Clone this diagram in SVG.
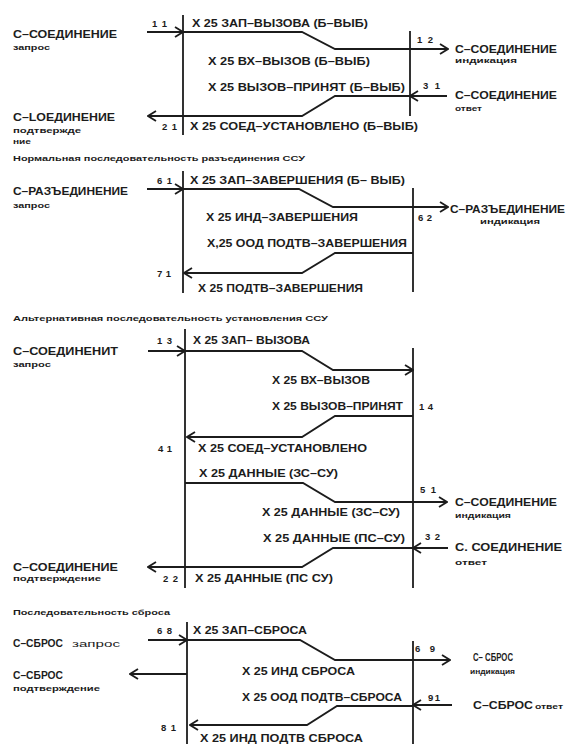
<svg xmlns="http://www.w3.org/2000/svg" width="570" height="744" viewBox="0 0 570 744">
<style>
text{font-family:"Liberation Sans",Arial,sans-serif;font-weight:bold;fill:#1c1c1c;font-size:10.5px}
.s{font-size:7px}
.n{font-size:9.5px}
.h{font-size:7.5px}
.m{font-size:9px;font-weight:normal}
.ln{stroke:#1c1c1c;stroke-width:1.8;fill:none}
.ar{stroke:#1c1c1c;stroke-width:1.8;fill:none;marker-end:url(#a)}
</style>
<defs>
<marker id="a" viewBox="0 0 10 12" refX="9" refY="6" markerWidth="10" markerHeight="12" markerUnits="userSpaceOnUse" orient="auto">
<path d="M1,1 L9,6 L1,11" fill="none" stroke="#1c1c1c" stroke-width="1.8"/>
</marker>
</defs>
<rect width="570" height="744" fill="#fff"/>

<g id="lifelines">
<path class="ln" d="M183,15 V135"/>
<path class="ln" d="M410,31 V116"/>
<path class="ln" d="M183,171 V293"/>
<path class="ln" d="M413,188 V292"/>
<path class="ln" d="M185,329 V588"/>
<path class="ln" d="M413,348 V588"/>
<path class="ln" d="M187,622 V744"/>
<path class="ln" d="M413,641 V744"/>
</g>

<g id="connectors">
<path class="ar" d="M147,32 H183"/>
<path class="ar" d="M183,32 H302 L335,49 H448"/>
<path class="ar" d="M447,96 H410"/>
<path class="ar" d="M410,96 H335 L302,116 H148"/>

<path class="ar" d="M147,189 H183"/>
<path class="ar" d="M183,189 H299 L333,207 H448"/>
<path class="ar" d="M413,253 H335 L302,273 H184"/>

<path class="ar" d="M148,351 H185"/>
<path class="ar" d="M185,351 H302 L333,370 H413"/>
<path class="ar" d="M413,416 H335 L302,437 H187"/>
<path class="ar" d="M185,483 H303 L335,502 H447"/>
<path class="ar" d="M448,548 H413"/>
<path class="ar" d="M413,548 H333 L302,567 H148"/>

<path class="ar" d="M148,640 H187"/>
<path class="ar" d="M187,640 H300 L335,660 H450"/>
<path class="ar" d="M187,674 H130"/>
<path class="ar" d="M452,705 H413"/>
<path class="ar" d="M413,706 H337 L307,725 H190"/>
</g>

<g id="sec1">
<text x="13" y="38" textLength="104" lengthAdjust="spacingAndGlyphs">С–СОЕДИНЕНИЕ</text>
<text class="s" x="13" y="50" textLength="37" lengthAdjust="spacingAndGlyphs">запрос</text>
<text class="n" x="152" y="27" textLength="15">1 1</text>
<text x="192" y="27" textLength="176" lengthAdjust="spacingAndGlyphs">X 25 ЗАП–ВЫЗОВА (Б–ВЫБ)</text>
<text x="208" y="65" textLength="162" lengthAdjust="spacingAndGlyphs">X 25 ВХ–ВЫЗОВ (Б–ВЫБ)</text>
<text x="208" y="91" textLength="197" lengthAdjust="spacingAndGlyphs">X 25 ВЫЗОВ–ПРИНЯТ (Б–ВЫБ)</text>
<text class="n" x="417" y="43" textLength="16">1 2</text>
<text x="455" y="53" textLength="102" lengthAdjust="spacingAndGlyphs">С–СОЕДИНЕНИЕ</text>
<text class="s" x="455" y="63" textLength="62" lengthAdjust="spacingAndGlyphs">индикация</text>
<text class="n" x="423" y="89" textLength="17">3 1</text>
<text x="455" y="99" textLength="102" lengthAdjust="spacingAndGlyphs">С–СОЕДИНЕНИЕ</text>
<text class="s" x="455" y="111" textLength="27" lengthAdjust="spacingAndGlyphs">ответ</text>
<text class="n" x="162" y="130" textLength="15">2 1</text>
<text x="190" y="130" textLength="228" lengthAdjust="spacingAndGlyphs">X 25 СОЕД–УСТАНОВЛЕНО (Б–ВЫБ)</text>
<text x="13" y="121" textLength="102" lengthAdjust="spacingAndGlyphs">С–LОЕДИНЕНИЕ</text>
<text class="s" x="13" y="133" textLength="68" lengthAdjust="spacingAndGlyphs">подтвержде</text>
<text class="s" x="13" y="144" textLength="18" lengthAdjust="spacingAndGlyphs">ние</text>
<text class="h" x="13" y="161" textLength="292" lengthAdjust="spacingAndGlyphs">Нормальная последовательность разъединения ССУ</text>
</g>

<g id="sec2">
<text class="n" x="157" y="184" textLength="15">6 1</text>
<text x="190" y="184" textLength="215" lengthAdjust="spacingAndGlyphs">X 25  ЗАП–ЗАВЕРШЕНИЯ (Б– ВЫБ)</text>
<text x="13" y="195" textLength="115" lengthAdjust="spacingAndGlyphs">С–РАЗЪЕДИНЕНИЕ</text>
<text class="s" x="13" y="208" textLength="37" lengthAdjust="spacingAndGlyphs">запрос</text>
<text x="206" y="221" textLength="152" lengthAdjust="spacingAndGlyphs">X 25 ИНД–ЗАВЕРШЕНИЯ</text>
<text class="n" x="418" y="221" textLength="14">6 2</text>
<text x="450" y="213" textLength="115" lengthAdjust="spacingAndGlyphs">С–РАЗЪЕДИНЕНИЕ</text>
<text class="s" x="480" y="224" textLength="60" lengthAdjust="spacingAndGlyphs">индикация</text>
<text x="207" y="247" textLength="200" lengthAdjust="spacingAndGlyphs">X,25 ООД ПОДТВ–ЗАВЕРШЕНИЯ</text>
<text class="n" x="157" y="277" textLength="14">7 1</text>
<text x="198" y="292" textLength="165" lengthAdjust="spacingAndGlyphs">X 25 ПОДТВ–ЗАВЕРШЕНИЯ</text>
</g>

<g id="sec3">
<text class="h" x="13" y="321" textLength="315" lengthAdjust="spacingAndGlyphs">Альтернативная последовательность установления ССУ</text>
<text class="n" x="157" y="344" textLength="15">1 3</text>
<text x="193" y="344" textLength="117" lengthAdjust="spacingAndGlyphs">X 25 ЗАП– ВЫЗОВА</text>
<text x="13" y="355" textLength="105" lengthAdjust="spacingAndGlyphs">С–СОЕДИНЕНИТ</text>
<text class="s" x="13" y="367" textLength="38" lengthAdjust="spacingAndGlyphs">запрос</text>
<text x="272" y="384" textLength="98" lengthAdjust="spacingAndGlyphs">X 25 ВХ–ВЫЗОВ</text>
<text x="272" y="410" textLength="131" lengthAdjust="spacingAndGlyphs">X 25 ВЫЗОВ–ПРИНЯТ</text>
<text class="n" x="419" y="410" textLength="14">1 4</text>
<text class="n" x="158" y="452" textLength="14">4 1</text>
<text x="198" y="452" textLength="169" lengthAdjust="spacingAndGlyphs">X 25 СОЕД–УСТАНОВЛЕНО</text>
<text x="199" y="477" textLength="139" lengthAdjust="spacingAndGlyphs">X 25 ДАННЫЕ (ЗС–СУ)</text>
<text class="n" x="420" y="493" textLength="16">5 1</text>
<text x="455" y="506" textLength="102" lengthAdjust="spacingAndGlyphs">С–СОЕДИНЕНИЕ</text>
<text class="s" x="455" y="518" textLength="56" lengthAdjust="spacingAndGlyphs">индикация</text>
<text x="262" y="516" textLength="138" lengthAdjust="spacingAndGlyphs">X 25 ДАННЫЕ (ЗС–СУ)</text>
<text x="263" y="542" textLength="142" lengthAdjust="spacingAndGlyphs">X 25 ДАННЫЕ (ПС–СУ)</text>
<text class="n" x="425" y="540" textLength="15">3 2</text>
<text x="455" y="551" textLength="107" lengthAdjust="spacingAndGlyphs">С. СОЕДИНЕНИЕ</text>
<text class="s" x="455" y="565" textLength="32" lengthAdjust="spacingAndGlyphs">ответ</text>
<text x="13" y="571" textLength="105" lengthAdjust="spacingAndGlyphs">С–СОЕДИНЕНИЕ</text>
<text class="s" x="13" y="581" textLength="88" lengthAdjust="spacingAndGlyphs">подтверждение</text>
<text class="n" x="163" y="582" textLength="15">2 2</text>
<text x="195" y="582" textLength="138" lengthAdjust="spacingAndGlyphs">X 25 ДАННЫЕ (ПС СУ)</text>
</g>

<g id="sec4">
<text class="h" x="13" y="615" textLength="157" lengthAdjust="spacingAndGlyphs">Последовательность сброса</text>
<text class="n" x="157" y="634" textLength="15">6 8</text>
<text x="193" y="634" textLength="114" lengthAdjust="spacingAndGlyphs">X 25 ЗАП–СБРОСА</text>
<text x="13" y="647" textLength="50" lengthAdjust="spacingAndGlyphs">С–СБРОС</text>
<text class="m" x="72" y="647" textLength="48" lengthAdjust="spacingAndGlyphs">запрос</text>
<text x="13" y="679" textLength="50" lengthAdjust="spacingAndGlyphs">С–СБРОС</text>
<text class="s" x="13" y="691" textLength="87" lengthAdjust="spacingAndGlyphs">подтверждение</text>
<text x="242" y="675" textLength="113" lengthAdjust="spacingAndGlyphs">X 25 ИНД  СБРОСА</text>
<text class="n" x="415" y="652" textLength="20">6 9</text>
<text x="473" y="661" textLength="40" lengthAdjust="spacingAndGlyphs">С– СБРОС</text>
<text class="s" x="470" y="674" textLength="45" lengthAdjust="spacingAndGlyphs">индикация</text>
<text x="242" y="701" textLength="160" lengthAdjust="spacingAndGlyphs">X 25 ООД ПОДТВ–СБРОСА</text>
<text class="n" x="428" y="701" textLength="12">9 1</text>
<text x="473" y="709" textLength="60" lengthAdjust="spacingAndGlyphs">С–СБРОС</text>
<text class="s" x="535" y="709" textLength="28" lengthAdjust="spacingAndGlyphs">ответ</text>
<text class="n" x="161" y="731" textLength="15">8 1</text>
<text x="200" y="742" textLength="163" lengthAdjust="spacingAndGlyphs">X 25 ИНД ПОДТВ  СБРОСА</text>
</g>
</svg>
